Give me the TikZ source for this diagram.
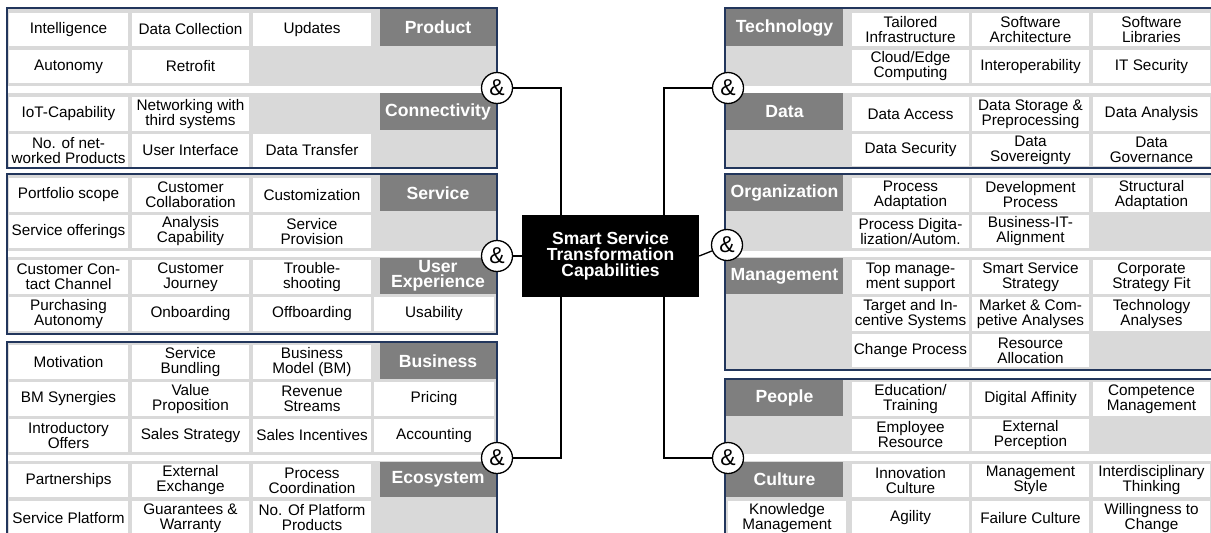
\documentclass[tikz,border=0pt]{standalone}
\usepackage{fontspec}
\setmainfont{Liberation Sans}
\definecolor{framec}{RGB}{34,54,92}
\definecolor{panelbg}{RGB}{217,217,217}
\definecolor{labelbg}{RGB}{127,127,127}
\tikzset{
  panelfill/.style={fill=panelbg},
  panelborder/.style={draw=framec, line width=1.4pt},
  sepstrip/.style={fill=white},
  cellbox/.style={fill=white, inner sep=0pt, align=center, text=black,
    font=\fontsize{15.3}{15}\selectfont},
  labelbox/.style={fill=labelbg, inner sep=0pt, align=center, text=white,
    font=\bfseries\fontsize{17.6}{15.5}\selectfont},
  ampnode/.style={circle, draw=black, line width=1.3pt, fill=white,
    minimum size=31pt, inner sep=0pt, font=\fontsize{23}{23}\selectfont},
  conn/.style={draw=black, line width=1.3pt},
  corebox/.style={fill=black, text=white, inner sep=0pt, align=center,
    font=\bfseries\fontsize{17.5}{15.8}\selectfont}
}
\newcommand\mycell[6]{\node[cellbox, minimum width={(#3-#2)*1pt}, minimum height={(#5-#4)*1pt}] (#1) at ({(#2+#3)/2},{(#4+#5)/2}) {#6};}
\newcommand\mylab[6]{\node[labelbox, minimum width={(#3-#2)*1pt}, minimum height={(#5-#4)*1pt}] (#1) at ({(#2+#3)/2},{(#4+#5)/2}) {#6};}
\newcommand\mypanel[5]{%
  \fill[panelfill] (#1,#2) rectangle (#3,#4);
  \foreach \sa/\sb in {#5} {\fill[sepstrip] (#1,\sa) rectangle (#3,\sb);}
  \draw[panelborder] (#1,#2) rectangle (#3,#4);}
\begin{document}
\begin{tikzpicture}[x=1pt,y=-1pt]
\clip (0,0) rectangle (1211,533);
\fill[white] (0,0) rectangle (1211,533);

% ---------------- LEFT PANELS ----------------
% Panel L1: Product / Connectivity
\mypanel{7}{8}{497}{168}{86/93}
\mycell{l1a}{9}{128}{13}{46}{Intelligence}
\mycell{l1b}{132}{249}{13}{46}{Data Collection}
\mycell{l1c}{253}{371}{13}{46}{Updates}
\mylab{lProduct}{380}{496}{9}{46}{Product}
\mycell{l1d}{9}{128}{50}{83}{Autonomy}
\mycell{l1e}{132}{249}{50}{83}{Retrofit}
\mycell{l1f}{9}{128}{97}{131}{IoT-Capability}
\mycell{l1g}{132}{249}{97}{131}{Networking with\\third systems}
\mylab{lConn}{380}{496}{93}{130}{Connectivity}
\mycell{l1h}{9}{128}{134}{167}{No. of net-\\worked Products}
\mycell{l1i}{132}{249}{134}{167}{User Interface}
\mycell{l1j}{253}{371}{134}{167}{Data Transfer}

% Panel L2: Service / User Experience
\mypanel{7}{174}{497}{334}{251/257}
\mycell{l2a}{9}{128}{178}{212}{Portfolio scope}
\mycell{l2b}{132}{249}{178}{212}{Customer\\Collaboration}
\mycell{l2c}{253}{371}{178}{212}{Customization}
\mylab{lService}{380}{496}{175}{211}{Service}
\mycell{l2d}{9}{128}{215}{248}{Service offerings}
\mycell{l2e}{132}{249}{215}{248}{Analysis\\Capability}
\mycell{l2f}{253}{371}{215}{248}{Service\\Provision}
\mycell{l2g}{9}{128}{260}{294}{Customer Con-\\tact Channel}
\mycell{l2h}{132}{249}{260}{294}{Customer\\Journey}
\mycell{l2i}{253}{371}{260}{294}{Trouble-\\shooting}
\mylab{lUX}{380}{496}{258}{294}{User\\Experience}
\mycell{l2j}{9}{128}{297}{331}{Purchasing\\Autonomy}
\mycell{l2k}{132}{249}{297}{331}{Onboarding}
\mycell{l2l}{253}{371}{297}{331}{Offboarding}
\mycell{l2m}{374}{494}{297}{331}{Usability}

% Panel L3: Business / Ecosystem
\mypanel{7}{342}{497}{545}{455/461}
\mycell{l3a}{9}{128}{345}{379}{Motivation}
\mycell{l3b}{132}{249}{345}{379}{Service\\Bundling}
\mycell{l3c}{253}{371}{345}{379}{Business\\Model (BM)}
\mylab{lBusiness}{380}{496}{343}{379}{Business}
\mycell{l3d}{9}{128}{382}{416}{BM Synergies}
\mycell{l3e}{132}{249}{382}{416}{Value\\Proposition}
\mycell{l3f}{253}{371}{382}{416}{Revenue\\Streams}
\mycell{l3g}{374}{494}{382}{416}{Pricing}
\mycell{l3h}{9}{128}{419}{452}{Introductory\\Offers}
\mycell{l3i}{132}{249}{419}{452}{Sales Strategy}
\mycell{l3j}{253}{371}{419}{452}{Sales Incentives}
\mycell{l3k}{374}{494}{419}{452}{Accounting}
\mycell{l3l}{9}{128}{464}{497}{Partnerships}
\mycell{l3m}{132}{249}{464}{497}{External\\Exchange}
\mycell{l3n}{253}{371}{464}{497}{Process\\Coordination}
\mylab{lEco}{380}{496}{462}{497}{Ecosystem}
\mycell{l3o}{9}{128}{501}{535}{Service Platform}
\mycell{l3p}{132}{249}{501}{535}{Guarantees \&\\Warranty}
\mycell{l3q}{253}{371}{501}{535}{No. Of Platform\\Products}

% ---------------- RIGHT PANELS ----------------
% Panel R1: Technology / Data
\mypanel{725}{8}{1214}{168}{86/93}
\mylab{rTech}{726}{843}{9}{46}{Technology}
\mycell{r1a}{852}{969}{13}{46}{Tailored\\Infrastructure}
\mycell{r1b}{972}{1089}{13}{46}{Software\\Architecture}
\mycell{r1c}{1093}{1210}{13}{46}{Software\\Libraries}
\mycell{r1d}{852}{969}{50}{83}{Cloud/Edge\\Computing}
\mycell{r1e}{972}{1089}{50}{83}{Interoperability}
\mycell{r1f}{1093}{1210}{50}{83}{IT Security}
\mylab{rData}{726}{843}{93}{130}{Data}
\mycell{r1g}{852}{969}{97}{131}{Data Access}
\mycell{r1h}{972}{1089}{97}{131}{Data Storage \&\\Preprocessing}
\mycell{r1i}{1093}{1210}{97}{131}{Data Analysis}
\mycell{r1j}{852}{969}{134}{166}{Data Security}
\mycell{r1k}{972}{1089}{134}{166}{Data\\Sovereignty}
\mycell{r1l}{1093}{1210}{134}{166}{Data\\Governance}

% Panel R2: Organization / Management
\mypanel{725}{174}{1214}{370}{251/257}
\mylab{rOrg}{726}{843}{175}{211}{Organization}
\mycell{r2a}{852}{969}{178}{212}{Process\\Adaptation}
\mycell{r2b}{972}{1089}{178}{212}{Development\\Process}
\mycell{r2c}{1093}{1210}{178}{212}{Structural\\Adaptation}
\mycell{r2d}{852}{969}{215}{248}{Process Digita-\\lization/Autom.}
\mycell{r2e}{972}{1089}{215}{248}{Business-IT-\\Alignment}
\mylab{rMgmt}{726}{843}{258}{294}{Management}
\mycell{r2f}{852}{969}{260}{294}{Top manage-\\ment support}
\mycell{r2g}{972}{1089}{260}{294}{Smart Service\\Strategy}
\mycell{r2h}{1093}{1210}{260}{294}{Corporate\\Strategy Fit}
\mycell{r2i}{852}{969}{297}{331}{Target and In-\\centive Systems}
\mycell{r2j}{972}{1089}{297}{331}{Market \& Com-\\petive Analyses}
\mycell{r2k}{1093}{1210}{297}{331}{Technology\\Analyses}
\mycell{r2l}{852}{969}{334}{367}{Change Process}
\mycell{r2m}{972}{1089}{334}{367}{Resource\\Allocation}

% Panel R3: People / Culture
\mypanel{725}{379}{1214}{545}{454/461}
\mylab{rPeople}{726}{843}{380}{416}{People}
\mycell{r3a}{852}{969}{382}{416}{Education/\\Training}
\mycell{r3b}{972}{1089}{382}{416}{Digital Affinity}
\mycell{r3c}{1093}{1210}{382}{416}{Competence\\Management}
\mycell{r3d}{852}{969}{419}{451}{Employee\\Resource}
\mycell{r3e}{972}{1089}{419}{451}{External\\Perception}
\mylab{rCulture}{726}{843}{462}{497}{Culture}
\mycell{r3f}{852}{969}{464}{497}{Innovation\\Culture}
\mycell{r3g}{972}{1089}{464}{497}{Management\\Style}
\mycell{r3h}{1093}{1210}{464}{497}{Interdisciplinary\\Thinking}
\mycell{r3i}{728}{846}{501}{535}{Knowledge\\Management}
\mycell{r3j}{852}{969}{501}{535}{Agility}
\mycell{r3k}{972}{1089}{501}{535}{Failure Culture}
\mycell{r3l}{1093}{1210}{501}{535}{Willingness to\\Change}

% ---------------- CENTRE ----------------
\node[corebox, minimum width=177pt, minimum height=82pt] (core) at (610.5,256)
  {Smart Service\\Transformation\\Capabilities};
\coordinate (jl) at (561,256);
\coordinate (jr) at (664,256);

\node[ampnode] (aL1) at (497,88) {\&};
\node[ampnode] (aL2) at (497,256) {\&};
\node[ampnode] (aL3) at (497,458) {\&};
\node[ampnode] (aR1) at (728,88) {\&};
\node[ampnode] (aR2) at (727,245) {\&};
\node[ampnode] (aR3) at (728,458) {\&};

\draw[conn] (aL1) -- (aL1 -| jl) -- (jl |- core.north);
\draw[conn] (aL2) -- (aL2 -| core.west);
\draw[conn] (aL3) -- (aL3 -| jl) -- (jl |- core.south);
\draw[conn] (aR1) -- (aR1 -| jr) -- (jr |- core.north);
\draw[conn] (core.east) -- (aR2);
\draw[conn] (aR3) -- (aR3 -| jr) -- (jr |- core.south);
\end{tikzpicture}
\end{document}
